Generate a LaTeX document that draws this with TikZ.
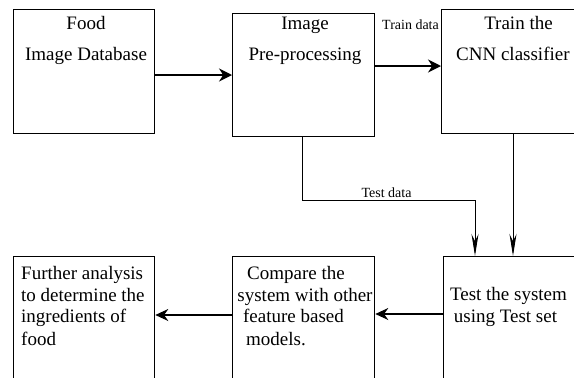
\documentclass[tikz,border=0pt]{standalone}
\usepackage{fontspec}
\setmainfont{Liberation Serif}
\usetikzlibrary{arrows.meta}
\begin{document}
\begin{tikzpicture}[x=1pt,y=-1pt,
  box/.style={draw,line width=1.3pt,inner sep=0pt,anchor=north west},
  lbl/.style={inner sep=0pt,font=\fontsize{19}{22}\selectfont},
  small/.style={inner sep=0pt,font=\fontsize{14}{16}\selectfont},
  harrow/.style={line width=1.5pt,-{Stealth[length=13pt,width=13pt]}},
  larrow/.style={line width=1.1pt,-{Stealth[length=13pt,width=12pt]}},
  varrow/.style={line width=1pt,-{Stealth[length=22pt,width=7pt]}},
  plain/.style={line width=1pt}]
\useasboundingbox (0,0) rectangle (574,378);
\fill[white] (0,0) rectangle (574,378);
\clip (0,0) rectangle (574,378);
% boxes
\node[box,minimum width=141pt,minimum height=124pt] (b1) at (13,9) {};
\node[box,minimum width=142pt,minimum height=123pt] (b2) at (232,13) {};
\node[box,minimum width=142pt,minimum height=124pt] (b3) at (441,9) {};
\node[box,minimum width=142pt,minimum height=150pt] (b4) at (443,256) {};
\node[box,minimum width=142pt,minimum height=150pt] (b5) at (232,256) {};
\node[box,minimum width=141pt,minimum height=150pt] (b6) at (13,256) {};
% texts
\node[lbl,anchor=base] (t1a) at (86,29) {Food};
\node[lbl,anchor=base] (t1b) at (86,60) {Image Database};
\node[lbl,anchor=base] (t2a) at (305,29) {Image};
\node[lbl,anchor=base] (t2b) at (305,60) {Pre-processing};
\node[lbl,anchor=base] (t3a) at (518.5,29) {Train the};
\node[lbl,anchor=base west] (t3b) at (456,60) {CNN classifier};
\node[lbl,anchor=base] (t4a) at (508.5,300) {Test the system};
\node[lbl,anchor=base] (t4b) at (505.5,322) {using Test set};
\node[lbl,anchor=base] (t5a) at (296,279) {Compare the};
\node[lbl,anchor=base] (t5b) at (305,301) {system with other};
\node[lbl,anchor=base] (t5c) at (293.5,322) {feature based};
\node[lbl,anchor=base] (t5d) at (276,345) {models.};
\node[lbl,anchor=base west] (t6a) at (21,279) {Further analysis};
\node[lbl,anchor=base west] (t6b) at (21,301) {to determine the};
\node[lbl,anchor=base west] (t6c) at (21,322) {ingredients of};
\node[lbl,anchor=base west] (t6d) at (21,345) {food};
\node[small,anchor=base west] (ltrain) at (382,29) {Train data};
\node[small,anchor=base] (ltest) at (386.5,197) {Test data};
% connectors
\coordinate (c1) at (302,200);
\coordinate (c2) at (475,200);
\draw[harrow] (b1.east |- 0,75) -- (b2.west |- 0,75);
\draw[harrow] (b2.east |- 0,66) -- (b3.west |- 0,66);
\draw[plain] (b2.south -| c1) -- (c1) -- (c2);
\draw[varrow] (c2) -- (b4.north -| c2);
\draw[varrow] (b3.south -| 513,0) -- (b4.north -| 513,0);
\draw[larrow] (b4.west |- 0,314) -- (b5.east |- 0,314);
\draw[larrow] (b5.west |- 0,315) -- (b6.east |- 0,315);
\end{tikzpicture}
\end{document}
